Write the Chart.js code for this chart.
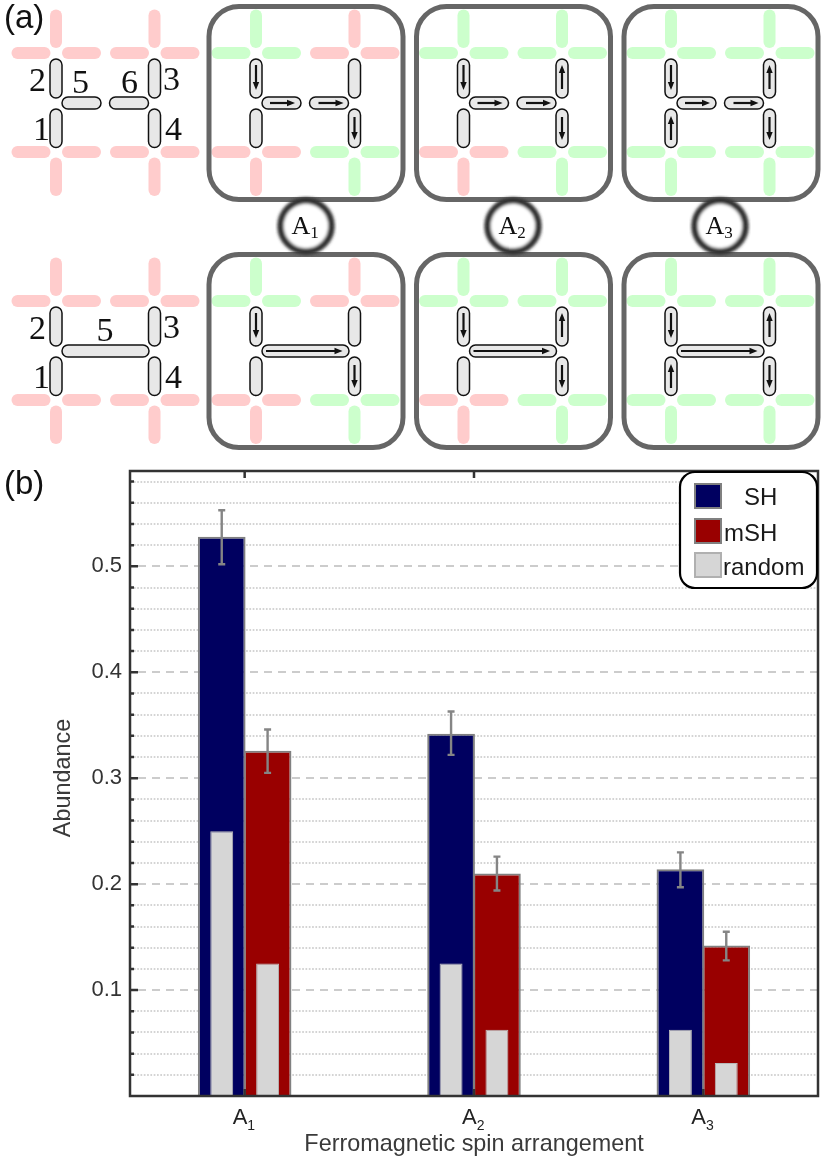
<!DOCTYPE html>
<html>
<head>
<meta charset="utf-8">
<title>Spin arrangement abundance</title>
<script src="https://cdn.jsdelivr.net/npm/chart.js@4"></script>
<style>
  html, body { margin: 0; padding: 0; background: #fff; }
  #page { position: relative; width: 831px; height: 1163px; overflow: hidden; }
  #abundanceChart, #schematic { position: absolute; left: 0; top: 0; }
</style>
</head>
<body>
<div id="page">
  <canvas id="abundanceChart" width="831" height="1163"></canvas>
  <svg id="schematic" width="831" height="520" viewBox="0 0 831 520" xmlns="http://www.w3.org/2000/svg"></svg>
</div>
<script>
// Values
const categories = ["A1", "A2", "A3"];
const shValues = [0.528, 0.342, 0.214];
const mshValues = [0.326, 0.210, 0.142];
const randomShValues = [0.25, 0.125, 0.0625];
const randomMshValues = [0.125, 0.0625, 0.03125];
const shErrLow = [0.502, 0.322, 0.197];
const shErrHigh = [0.553, 0.363, 0.230];
const mshErrLow = [0.305, 0.194, 0.128];
const mshErrHigh = [0.346, 0.226, 0.155];
const majorTicks = [0.1, 0.2, 0.3, 0.4, 0.5];
const minorTicks = [0.02, 0.04, 0.06, 0.08, 0.12, 0.14, 0.16, 0.18, 0.22, 0.24, 0.26, 0.28,
                    0.32, 0.34, 0.36, 0.38, 0.42, 0.44, 0.46, 0.48, 0.52, 0.54, 0.56, 0.58];
const legendNames = ["SH", "mSH", "random"];

const NAVY = "#000060";
const DARK_RED = "#990000";
const LIGHT_GREY = "#d6d6d6";
const AXIS = "#333333";

const isMajor = v => majorTicks.some(t => Math.abs(t - v) < 1e-6);

// ---- panel (b) ----
const errorBars = {
    id: "errorBars",
    afterDatasetsDraw(chart) {
        const { ctx, scales: { y } } = chart;
        const sets = [[2, shErrLow, shErrHigh], [3, mshErrLow, mshErrHigh]];
        ctx.save();
        ctx.strokeStyle = "#858585";
        ctx.lineWidth = 2.4;
        sets.forEach(([idx, low, high]) => {
            chart.getDatasetMeta(idx).data.forEach((bar, i) => {
                const top = y.getPixelForValue(high[i]);
                const bottom = y.getPixelForValue(low[i]);
                ctx.beginPath();
                ctx.moveTo(bar.x, top);
                ctx.lineTo(bar.x, bottom);
                ctx.moveTo(bar.x - 3.5, top);
                ctx.lineTo(bar.x + 3.5, top);
                ctx.moveTo(bar.x - 3.5, bottom);
                ctx.lineTo(bar.x + 3.5, bottom);
                ctx.stroke();
            });
        });
        ctx.restore();
    }
};

// frame, inward ticks, subscripted category labels and the y title
const axisFrame = {
    id: "axisFrame",
    afterDatasetsDraw(chart) {
        const { ctx, chartArea: a, scales: { x, y } } = chart;
        ctx.save();
        ctx.strokeStyle = AXIS;
        ctx.lineWidth = 2.5;
        ctx.beginPath();
        majorTicks.concat(minorTicks).forEach(v => {
            const py = y.getPixelForValue(v);
            ctx.moveTo(a.left, py);
            ctx.lineTo(a.left + (isMajor(v) ? 8 : 4), py);
        });
        categories.forEach((c, i) => {
            const px = x.getPixelForValue(i);
            ctx.moveTo(px, a.top);
            ctx.lineTo(px, a.top + 7);
            ctx.moveTo(px, a.bottom);
            ctx.lineTo(px, a.bottom - 7);
        });
        ctx.stroke();
        ctx.strokeRect(a.left, a.top, a.right - a.left, a.bottom - a.top);

        ctx.fillStyle = "#222";
        ctx.textAlign = "left";
        ctx.textBaseline = "alphabetic";
        categories.forEach((c, i) => {
            const px = x.getPixelForValue(i);
            ctx.font = "22px 'Liberation Sans'";
            const w = ctx.measureText(c[0]).width;
            ctx.fillText(c[0], px - 12, 1124);
            ctx.font = "14px 'Liberation Sans'";
            ctx.fillText(c.slice(1), px - 12 + w, 1130);
        });

        ctx.translate(70, 778);
        ctx.rotate(-Math.PI / 2);
        ctx.font = "23.4px 'Liberation Sans'";
        ctx.fillStyle = "#3a3a3a";
        ctx.textAlign = "center";
        ctx.fillText("Abundance", 0, 0);
        ctx.restore();
    }
};

const boxLegend = {
    id: "boxLegend",
    afterDraw(chart) {
        const { ctx } = chart;
        const fills = [NAVY, DARK_RED, LIGHT_GREY];
        const edges = ["#808080", "#808080", "#b0b0b0"];
        const boxY = [484, 519, 553];
        const textX = [744, 724, 723];
        const textY = [505, 541, 575];
        ctx.save();
        ctx.beginPath();
        ctx.roundRect(680, 472, 137, 116, 15);
        ctx.fillStyle = "#fff";
        ctx.fill();
        ctx.strokeStyle = "#000";
        ctx.lineWidth = 2.2;
        ctx.stroke();
        ctx.font = "24px 'Liberation Sans'";
        ctx.textBaseline = "alphabetic";
        legendNames.forEach((name, i) => {
            ctx.fillStyle = fills[i];
            ctx.strokeStyle = edges[i];
            ctx.lineWidth = 2;
            ctx.fillRect(695, boxY[i], 26, 24);
            ctx.strokeRect(695, boxY[i], 26, 24);
            ctx.fillStyle = "#1a1a1a";
            ctx.fillText(name, textX[i], textY[i]);
        });
        ctx.restore();
    }
};

new Chart(document.getElementById("abundanceChart").getContext("2d"), {
    type: "bar",
    plugins: [errorBars, axisFrame, boxLegend],
    data: {
        labels: categories,
        datasets: [
            // first dataset is painted last, so the random bars sit in front
            { label: legendNames[2], stack: "sh", data: randomShValues, barPercentage: 0.5, backgroundColor: LIGHT_GREY, borderColor: "#b8b8b8", borderWidth: 1 },
            { label: legendNames[2], stack: "msh", data: randomMshValues, barPercentage: 0.5, backgroundColor: LIGHT_GREY, borderColor: "#b8b8b8", borderWidth: 1 },
            { label: legendNames[0], stack: "sh", data: shValues, barPercentage: 1.04, backgroundColor: NAVY, borderColor: "#808080", borderWidth: 2 },
            { label: legendNames[1], stack: "msh", data: mshValues, barPercentage: 1.04, backgroundColor: DARK_RED, borderColor: "#808080", borderWidth: 2 }
        ]
    },
    options: {
        responsive: false,
        animation: false,
        layout: { padding: { top: 471, right: 13, left: 0, bottom: 0 } },
        categoryPercentage: 0.4,
        plugins: { legend: { display: false }, tooltip: { enabled: false } },
        scales: {
            x: {
                grid: { display: false },
                border: { display: false },
                afterFit: s => { s.height = 67; },
                ticks: { display: false },
                title: { display: true, text: "Ferromagnetic spin arrangement", color: "#3a3a3a", padding: { top: 0, bottom: 4 }, font: { family: "'Liberation Sans'", size: 23.4 } }
            },
            y: {
                min: 0,
                max: 0.59,
                stacked: false,
                afterFit: s => { s.width = 130; },
                afterBuildTicks: s => {
                    s.ticks = majorTicks.concat(minorTicks).sort((a, b) => a - b).map(v => ({ value: v }));
                },
                border: {
                    display: false,
                    dash: c => c.tick && isMajor(c.tick.value) ? [8, 6] : [1.7, 1.6],
                    dashOffset: 6
                },
                grid: {
                    drawTicks: false,
                    lineWidth: 2,
                    color: c => c.tick && isMajor(c.tick.value) ? "#cccccc" : "#d4d4d4"
                },
                ticks: {
                    autoSkip: false,
                    color: "#333",
                    padding: 8,
                    font: { family: "'Liberation Sans'", size: 22 },
                    callback: v => isMajor(v) ? v.toFixed(1) : ""
                }
            }
        }
    }
});

// ---- panel (a) schematic ----
const svg = document.getElementById("schematic");
const SVG_NS = "http://www.w3.org/2000/svg";
const PINK = "#ffcccc";
const GREEN = "#ccffcc";

function el(name, attrs, text) {
    const n = document.createElementNS(SVG_NS, name);
    Object.entries(attrs).forEach(([k, v]) => n.setAttribute(k, v));
    if (text) n.textContent = text;
    svg.appendChild(n);
    return n;
}

function capsule(x, y, w, h, fill, stroke) {
    const attrs = { x, y, width: w, height: h, rx: Math.min(w, h) / 2, fill };
    if (stroke) { attrs.stroke = "#111"; attrs["stroke-width"] = 1.5; }
    el("rect", attrs);
}

// one vertex: three pads, vertical arm pointing up or down
function cross(cx, cy, up, color) {
    capsule(cx - 44.5, cy - 6, 39, 12, color);
    capsule(cx + 6, cy - 6, 39, 12, color);
    if (up) capsule(cx - 6, cy - 43.5, 12, 38.5, color);
    else capsule(cx - 6, cy + 5.5, 12, 38.5, color);
}

function arrow(x1, y1, x2, y2) {
    const dx = Math.sign(x2 - x1), dy = Math.sign(y2 - y1);
    el("line", { x1, y1, x2: x2 - dx * 4, y2: y2 - dy * 4, stroke: "#111", "stroke-width": 2.2 });
    const px = -dy * 3.2, py = dx * 3.2;
    el("polygon", {
        points: `${x2},${y2} ${x2 - dx * 8 + px},${y2 - dy * 8 + py} ${x2 - dx * 8 - px},${y2 - dy * 8 - py}`,
        fill: "#111"
    });
}

// vertices of a cell: [upper left, upper right, lower left, lower right]
function cell(ox, oy, colors, spins, longLink) {
    const L = 56 + ox, R = 154.5 + ox, T = 53 + oy, B = 152 + oy, M = 103 + oy;
    cross(L, T, true, colors[0]);
    cross(R, T, true, colors[1]);
    cross(L, B, false, colors[2]);
    cross(R, B, false, colors[3]);

    capsule(L - 6, T + 6, 12, 39, "#e8e8e8", true);
    capsule(L - 6, B - 43, 12, 38.5, "#e8e8e8", true);
    capsule(R - 6, T + 6, 12, 39, "#e8e8e8", true);
    capsule(R - 6, B - 43, 12, 38.5, "#e8e8e8", true);
    if (longLink) {
        capsule(L + 6, M - 6, 87, 12, "#e8e8e8", true);
    } else {
        capsule(L + 6, M - 6, 39, 12, "#e8e8e8", true);
        capsule(R - 45, M - 6, 39, 12, "#e8e8e8", true);
    }

    if (spins.link) {
        if (longLink) {
            arrow(L + 10, M, R - 12, M);
        } else {
            arrow(L + 14, M, L + 39, M);
            arrow(R - 36, M, R - 11, M);
        }
    }
    if (spins.s2) arrow(L, T + 12, L, T + 37);
    if (spins.s1) arrow(L, B - 12, L, B - 36);
    if (spins.s3) arrow(R, T + 36, R, T + 12);
    if (spins.s4) arrow(R, B - 35, R, B - 12);
}

const cellOffsets = [200, 407.5, 615];
const rowOffsets = [0, 248];
const cellColors = [
    [GREEN, PINK, PINK, GREEN],
    [GREEN, GREEN, PINK, GREEN],
    [GREEN, GREEN, GREEN, GREEN]
];
const cellSpins = [
    { link: true, s2: true, s4: true },
    { link: true, s2: true, s3: true, s4: true },
    { link: true, s1: true, s2: true, s3: true, s4: true }
];

rowOffsets.forEach((oy, r) => {
    cell(0, oy, [PINK, PINK, PINK, PINK], {}, r === 1);
    cellOffsets.forEach((ox, c) => {
        cell(ox, oy, cellColors[c], cellSpins[c], r === 1);
        el("rect", { x: 9 + ox, y: 6.5 + oy, width: 194, height: 193, rx: 30, fill: "none", stroke: "#666", "stroke-width": 5 });
    });
});

const numberFont = { "font-family": "'Liberation Serif'", "font-size": 34, fill: "#111" };
[["2", 37.5, 90.5], ["5", 80.5, 92.5], ["6", 129.5, 92.5], ["3", 171.5, 90], ["1", 41.5, 139.5], ["4", 173.5, 139.5],
 ["2", 37.5, 338.5], ["5", 105, 340.5], ["3", 171.5, 338], ["1", 41.5, 387.5], ["4", 173.5, 387.5]].forEach(([t, x, y]) => {
    el("text", { x, y, "text-anchor": "middle", ...numberFont }, t);
});

const defs = el("defs", {});
const blur = document.createElementNS(SVG_NS, "filter");
blur.setAttribute("id", "soft");
const gauss = document.createElementNS(SVG_NS, "feGaussianBlur");
gauss.setAttribute("stdDeviation", "1.8");
blur.appendChild(gauss);
defs.appendChild(blur);

[306, 513, 720].forEach((cx, i) => {
    el("circle", { cx, cy: 226, r: 25.5, fill: "#fff", stroke: "#333", "stroke-width": 6.5, filter: "url(#soft)" });
    const label = el("text", { x: cx - 14.5, y: 234, "font-family": "'Liberation Serif'", "font-size": 26, fill: "#111" }, "A");
    const sub = document.createElementNS(SVG_NS, "tspan");
    sub.setAttribute("font-size", "17");
    sub.setAttribute("dy", "4");
    sub.textContent = String(i + 1);
    label.appendChild(sub);
});

el("text", { x: 4, y: 28, "font-family": "'Liberation Sans'", "font-size": 33, fill: "#111" }, "(a)");
el("text", { x: 4, y: 494, "font-family": "'Liberation Sans'", "font-size": 33, fill: "#111" }, "(b)");
</script>
</body>
</html>
